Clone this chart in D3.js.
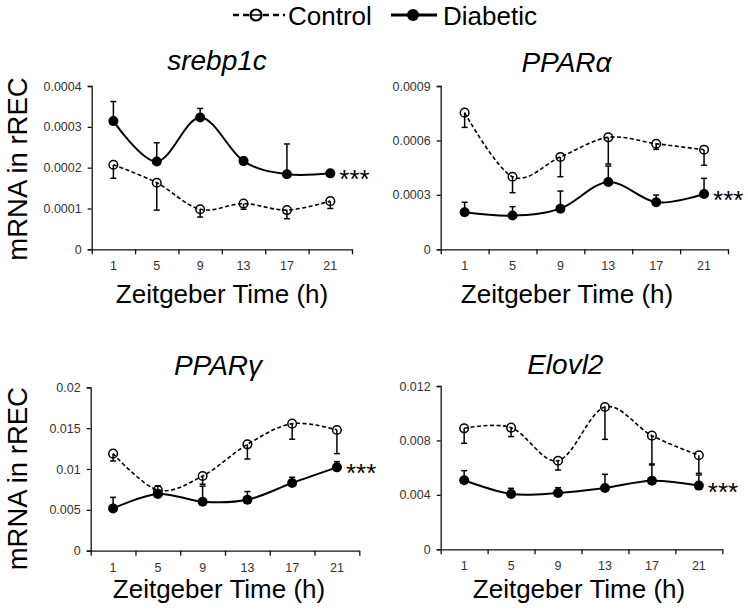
<!DOCTYPE html>
<html>
<head>
<meta charset="utf-8">
<script src="https://cdn.jsdelivr.net/npm/d3@7"></script>
<style>
  body { margin: 0; background: #fff; }
  svg { display: block; font-family: "Liberation Sans", Arial, sans-serif; }
  .tick text { fill: #333; }
</style>
</head>
<body>
<div id="chart"></div>
<script>
// Zeitgeber time points (h)
const times = ["1", "5", "9", "13", "17", "21"];

// srebp1c
const srebp1cControl = [0.000207, 0.000163, 0.000098, 0.000112, 0.000096, 0.000118];
const srebp1cControlErr = [0.000033, 0.000067, 0.000019, 0.000014, 0.000021, 0.000018];
const srebp1cDiabetic = [0.000314, 0.000215, 0.000323, 0.000216, 0.000184, 0.000186];
const srebp1cDiabeticErr = [0.000048, 0.000046, 0.000022, 0.000009, 0.000074, 0.000002];
const srebp1cTicks = [0, 0.0001, 0.0002, 0.0003, 0.0004];

// PPARa
const pparaControl = [0.000753, 0.000400, 0.000509, 0.000617, 0.000582, 0.000549];
const pparaControlErr = [0.000081, 0.000088, 0.000109, 0.000147, 0.000031, 0.000086];
const pparaDiabetic = [0.000204, 0.000186, 0.000224, 0.000371, 0.000259, 0.000305];
const pparaDiabeticErr = [0.000055, 0.000049, 0.000097, 0.000088, 0.000040, 0.000086];
const pparaTicks = [0, 0.0003, 0.0006, 0.0009];

// PPARg
const ppargControl = [0.01188, 0.00743, 0.00914, 0.01302, 0.01555, 0.01478];
const ppargControlErr = [0.0009, 0.0003, 0.0010, 0.0018, 0.0019, 0.0029];
const ppargDiabetic = [0.00518, 0.00694, 0.00600, 0.00624, 0.00829, 0.01020];
const ppargDiabeticErr = [0.00135, 0.0010, 0.0019, 0.0010, 0.0007, 0.0007];
const ppargTicks = [0, 0.005, 0.01, 0.015, 0.02];

// Elovl2
const elovl2Control = [0.00889, 0.00894, 0.00651, 0.01046, 0.00835, 0.00691];
const elovl2ControlErr = [0.0011, 0.00066, 0.00068, 0.00238, 0.00215, 0.00133];
const elovl2Diabetic = [0.00507, 0.00407, 0.00414, 0.00451, 0.00504, 0.00468];
const elovl2DiabeticErr = [0.00071, 0.00041, 0.00039, 0.0010, 0.00123, 0.00078];
const elovl2Ticks = [0, 0.004, 0.008, 0.012];

const panels = [
  { title: "srebp1c", control: srebp1cControl, controlErr: srebp1cControlErr,
    diabetic: srebp1cDiabetic, diabeticErr: srebp1cDiabeticErr, ticks: srebp1cTicks,
    left: 91.7, right: 352, top: 86, bottom: 249.3,
    titleX: 217, titleY: 70, xTitleX: 222, xTitleY: 302.7, yLabelY: 169 },
  { title: "PPARα", control: pparaControl, controlErr: pparaControlErr,
    diabetic: pparaDiabetic, diabeticErr: pparaDiabeticErr, ticks: pparaTicks,
    left: 440.7, right: 728, top: 86, bottom: 249.3,
    titleX: 566.5, titleY: 71.7, xTitleX: 567, xTitleY: 302.7, yLabelY: null },
  { title: "PPARγ", control: ppargControl, controlErr: ppargControlErr,
    diabetic: ppargDiabetic, diabeticErr: ppargDiabeticErr, ticks: ppargTicks,
    left: 90.7, right: 359.3, top: 387.3, bottom: 550.7,
    titleX: 218, titleY: 375, xTitleX: 219, xTitleY: 597.7, yLabelY: 478.7 },
  { title: "Elovl2", control: elovl2Control, controlErr: elovl2ControlErr,
    diabetic: elovl2Diabetic, diabeticErr: elovl2DiabeticErr, ticks: elovl2Ticks,
    left: 440.7, right: 722.3, top: 386, bottom: 549.3,
    titleX: 565.3, titleY: 374, xTitleX: 579, xTitleY: 597.7, yLabelY: null }
];

const svg = d3.select("#chart")
  .append("svg")
  .attr("width", 748)
  .attr("height", 614);

const smooth = d3.curveCardinal.tension(0);

panels.forEach(p => {
  const x = d3.scaleBand()
    .domain(times)
    .range([p.left, p.right]);

  // boundary ticks between categories
  const xEdges = d3.scaleLinear()
    .domain([0, times.length])
    .range([p.left, p.right]);

  const y = d3.scaleLinear()
    .domain([0, d3.max(p.ticks)])
    .range([p.bottom, p.top]);

  const cx = t => x(t) + x.bandwidth() / 2;

  const g = svg.append("g");

  // Y axis
  g.append("g")
    .attr("transform", "translate(" + p.left + ",0)")
    .call(d3.axisLeft(y)
      .tickValues(p.ticks)
      .tickSize(4)
      .tickPadding(6)
      .tickFormat(d => d === 0 ? "0" : String(d)))
    .call(a => a.selectAll("text").style("font-size", "12.5px"));

  // X axis labels
  g.append("g")
    .attr("transform", "translate(0," + p.bottom + ")")
    .call(d3.axisBottom(x).tickSize(0).tickPadding(12))
    .call(a => a.select(".domain").remove())
    .call(a => a.selectAll("text").style("font-size", "12.5px"));

  // X axis line and boundary ticks
  g.append("g")
    .attr("transform", "translate(0," + p.bottom + ")")
    .call(d3.axisBottom(xEdges)
      .tickValues(d3.range(times.length + 1))
      .tickSize(5)
      .tickSizeOuter(0)
      .tickFormat(""));

  g.selectAll(".domain, .tick line")
    .attr("stroke", "#111")
    .attr("stroke-width", 1.3);

  const line = d3.line()
    .x((d, i) => cx(times[i]))
    .y(d => y(d))
    .curve(smooth);

  // Control series (dashed, open circles, error bars down)
  g.append("path")
    .datum(p.control)
    .attr("d", line)
    .attr("fill", "none")
    .attr("stroke", "#000")
    .attr("stroke-width", 1.6)
    .attr("stroke-dasharray", "4,2.5");

  const ctrlErr = g.selectAll(".ctrl-err")
    .data(p.control)
    .enter()
    .append("g")
    .attr("class", "ctrl-err");
  ctrlErr.append("line")
    .attr("x1", (d, i) => cx(times[i]))
    .attr("x2", (d, i) => cx(times[i]))
    .attr("y1", d => y(d))
    .attr("y2", (d, i) => y(d - p.controlErr[i]))
    .attr("stroke", "#000")
    .attr("stroke-width", 1.5);
  ctrlErr.append("line")
    .attr("x1", (d, i) => cx(times[i]) - 3)
    .attr("x2", (d, i) => cx(times[i]) + 3)
    .attr("y1", (d, i) => y(d - p.controlErr[i]))
    .attr("y2", (d, i) => y(d - p.controlErr[i]))
    .attr("stroke", "#000")
    .attr("stroke-width", 1.5);

  g.selectAll(".ctrl-dot")
    .data(p.control)
    .enter()
    .append("circle")
    .attr("class", "ctrl-dot")
    .attr("cx", (d, i) => cx(times[i]))
    .attr("cy", d => y(d))
    .attr("r", 4.3)
    .attr("fill", "none")
    .attr("stroke", "#000")
    .attr("stroke-width", 1.5);

  // Diabetic series (solid, filled circles, error bars up)
  g.append("path")
    .datum(p.diabetic)
    .attr("d", line)
    .attr("fill", "none")
    .attr("stroke", "#000")
    .attr("stroke-width", 2);

  const diabErr = g.selectAll(".diab-err")
    .data(p.diabetic)
    .enter()
    .append("g")
    .attr("class", "diab-err");
  diabErr.append("line")
    .attr("x1", (d, i) => cx(times[i]))
    .attr("x2", (d, i) => cx(times[i]))
    .attr("y1", d => y(d))
    .attr("y2", (d, i) => y(d + p.diabeticErr[i]))
    .attr("stroke", "#000")
    .attr("stroke-width", 1.5);
  diabErr.append("line")
    .attr("x1", (d, i) => cx(times[i]) - 3)
    .attr("x2", (d, i) => cx(times[i]) + 3)
    .attr("y1", (d, i) => y(d + p.diabeticErr[i]))
    .attr("y2", (d, i) => y(d + p.diabeticErr[i]))
    .attr("stroke", "#000")
    .attr("stroke-width", 1.5);

  g.selectAll(".diab-dot")
    .data(p.diabetic)
    .enter()
    .append("circle")
    .attr("class", "diab-dot")
    .attr("cx", (d, i) => cx(times[i]))
    .attr("cy", d => y(d))
    .attr("r", 5)
    .attr("fill", "#000");

  // significance stars next to the last diabetic point
  const last = times.length - 1;
  g.append("text")
    .attr("x", cx(times[last]) + 9)
    .attr("y", y(p.diabetic[last]) + 15)
    .style("font-size", "26px")
    .text("***");

  // gene title
  g.append("text")
    .attr("x", p.titleX)
    .attr("y", p.titleY)
    .attr("text-anchor", "middle")
    .style("font-size", "28px")
    .style("font-style", "italic")
    .text(p.title);

  // x axis title
  g.append("text")
    .attr("x", p.xTitleX)
    .attr("y", p.xTitleY)
    .attr("text-anchor", "middle")
    .style("font-size", "26px")
    .text("Zeitgeber Time (h)");

  // y axis label (left column only)
  if (p.yLabelY !== null) {
    g.append("text")
      .attr("transform", "translate(26.7," + p.yLabelY + ") rotate(-90)")
      .attr("text-anchor", "middle")
      .style("font-size", "27.5px")
      .text("mRNA in rREC");
  }
});

// Legend
const legend = svg.append("g").attr("class", "legend");

legend.append("line")
  .attr("x1", 233).attr("x2", 285)
  .attr("y1", 15).attr("y2", 15)
  .attr("stroke", "#000")
  .attr("stroke-width", 2.6)
  .attr("stroke-dasharray", "6,4");
legend.append("circle")
  .attr("cx", 256).attr("cy", 15)
  .attr("r", 5.5)
  .attr("fill", "#fff")
  .attr("stroke", "#000")
  .attr("stroke-width", 2.2);
legend.append("line")
  .attr("x1", 251).attr("x2", 261)
  .attr("y1", 15).attr("y2", 15)
  .attr("stroke", "#000")
  .attr("stroke-width", 1.5);
legend.append("text")
  .attr("x", 288).attr("y", 25)
  .style("font-size", "26px")
  .text("Control");

legend.append("line")
  .attr("x1", 391).attr("x2", 437)
  .attr("y1", 15).attr("y2", 15)
  .attr("stroke", "#000")
  .attr("stroke-width", 2.8);
legend.append("circle")
  .attr("cx", 413).attr("cy", 15)
  .attr("r", 6)
  .attr("fill", "#000");
legend.append("text")
  .attr("x", 443).attr("y", 25)
  .style("font-size", "26px")
  .text("Diabetic");
</script>
</body>
</html>
